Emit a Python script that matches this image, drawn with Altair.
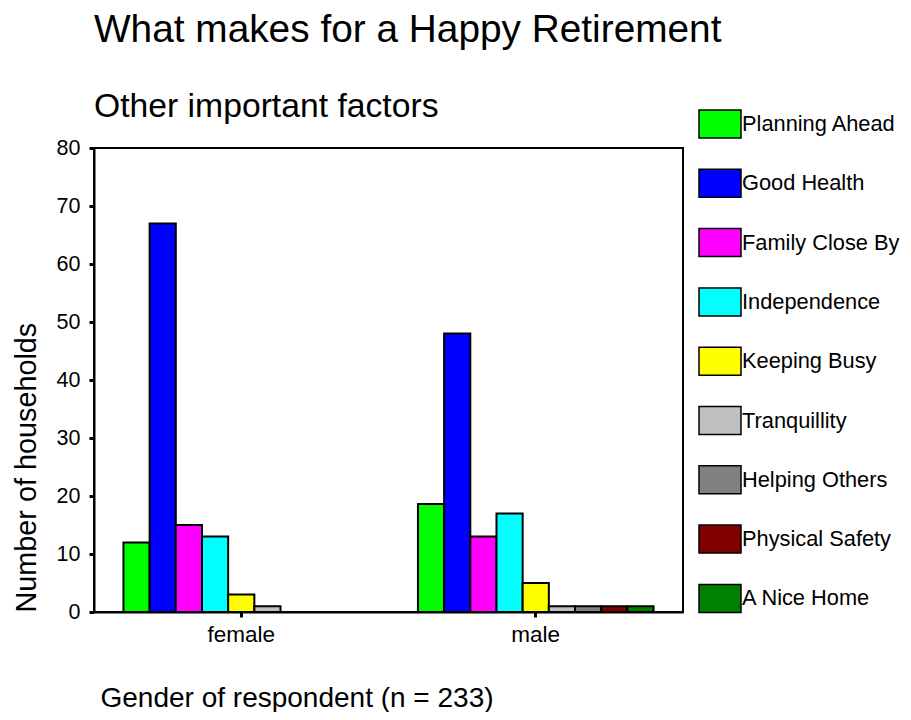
import altair as alt
import pandas as pd

genders = ["female", "male"]
factors = ["Planning Ahead", "Good Health", "Family Close By", "Independence",
           "Keeping Busy", "Tranquillity", "Helping Others", "Physical Safety",
           "A Nice Home"]
female_counts = [12, 67, 15, 13, 3, 1, 0, 0, 0]
male_counts = [18.6, 48, 13, 17, 5, 1, 1, 1, 1]
colors = ["#00FF00", "#0000FF", "#FF00FF", "#00FFFF", "#FFFF00",
          "#C0C0C0", "#808080", "#800000", "#008000"]
y_ticks = [0, 10, 20, 30, 40, 50, 60, 70, 80]

rows = []
for g, vals in zip(genders, [female_counts, male_counts]):
    for f, v in zip(factors, vals):
        rows.append({"gender": g, "factor": f, "count": v})
df = pd.DataFrame(rows)

FONT = "Liberation Sans"
W, H = 589, 464

bars = alt.Chart(df).mark_bar(stroke="black", strokeWidth=2).encode(
    x=alt.X("gender:N", sort=genders,
            scale=alt.Scale(paddingInner=0.2, paddingOuter=0.1),
            axis=alt.Axis(title="Gender of respondent (n = 233)", labelAngle=0,
                          labelFontSize=22.5, labelFont=FONT, labelColor="black",
                          labelPadding=6, tickSize=5, tickWidth=3, tickColor="black",
                          domainColor="black", domainWidth=2,
                          titleFont=FONT, titleFontSize=28, titleFontWeight="normal",
                          titleColor="black", titleAlign="left", titleBaseline="alphabetic",
                          titleX=6, titleY=94)),
    xOffset=alt.XOffset("factor:N", sort=factors,
                        scale=alt.Scale(paddingInner=0, paddingOuter=0)),
    y=alt.Y("count:Q", scale=alt.Scale(domain=[0, 80], nice=False),
            axis=alt.Axis(title="Number of households", values=y_ticks, grid=False,
                          labelFontSize=21.5, labelFont=FONT, labelColor="black",
                          labelPadding=9, tickSize=5, tickWidth=3, tickColor="black",
                          domainColor="black", domainWidth=2,
                          titleFont=FONT, titleFontSize=28.8, titleFontWeight="normal",
                          titleColor="black", titleAngle=270, titleAlign="left",
                          titleBaseline="alphabetic", titleX=-59, titleY=H)),
    color=alt.Color("factor:N", sort=factors,
                    scale=alt.Scale(domain=factors, range=colors),
                    legend=alt.Legend(title=None, orient="none", legendX=604, legendY=-46,
                                      symbolType="M-1,-0.667H1V0.667H-1Z",
                                      symbolSize=1764, symbolStrokeColor="black",
                                      symbolStrokeWidth=1.5, symbolOpacity=1,
                                      labelFont=FONT, labelFontSize=21.8, labelColor="black",
                                      labelOffset=0, rowPadding=19.3, padding=0,
                                      labelLimit=300)),
)

chart = bars.properties(
    width=W, height=H,
    title=alt.TitleParams(text="What makes for a Happy Retirement",
                          subtitle="Other important factors",
                          anchor="start", frame="group", font=FONT, fontSize=38.8,
                          fontWeight="normal", color="black", subtitleFont=FONT,
                          subtitleFontSize=33.7, subtitleColor="black",
                          subtitlePadding=41, offset=-22),
    autosize=alt.AutoSizeParams(type="none"),
    padding={"left": 86, "top": 140, "right": 220, "bottom": 100},
).configure_view(stroke="black", strokeWidth=2)

chart.save("out.html", embed_options={"renderer": "svg", "actions": False})
